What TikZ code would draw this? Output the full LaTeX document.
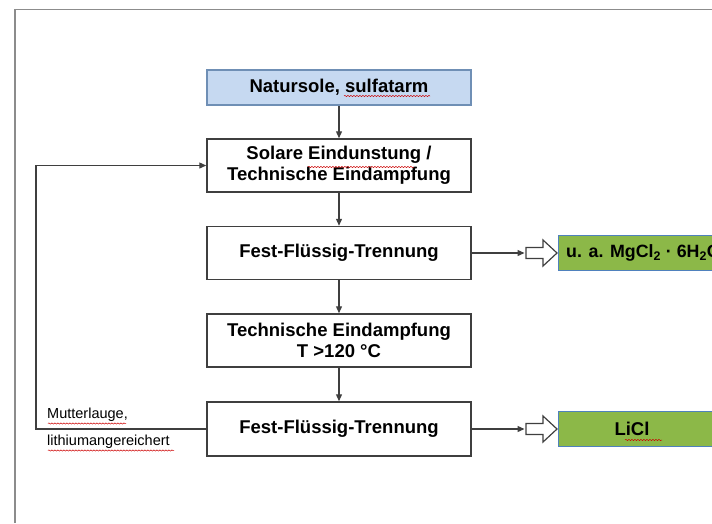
\documentclass[tikz,border=0pt]{standalone}
\usepackage{fontspec}
\setmainfont{Liberation Sans}
\usetikzlibrary{arrows.meta,decorations.pathmorphing}
\definecolor{lineC}{HTML}{3F3F3F}
\definecolor{blueFill}{HTML}{C6D9F1}
\definecolor{blueLine}{HTML}{6F8FB5}
\definecolor{greenFill}{HTML}{8CB848}
\definecolor{greenLine}{HTML}{4F81BD}
\definecolor{frameC}{HTML}{8C8C8C}
\tikzset{
  procbox/.style={draw=lineC, line width=1.5pt, fill=white, minimum width=264pt, inner sep=0pt,
    font=\fontsize{18.5}{21.5}\selectfont\bfseries, align=center},
  srcbox/.style={procbox, draw=blueLine, fill=blueFill},
  prodbox/.style={draw=greenLine, line width=1.2pt, fill=greenFill, inner sep=0pt, minimum height=35pt},
  prodtext/.style={font=\fontsize{18.5}{21.5}\selectfont\bfseries, inner sep=0pt},
  flow/.style={draw=lineC, line width=1.3pt, -{Triangle[length=7pt,width=6pt]}},
  blockarrow/.style={draw=lineC, line width=1.2pt, fill=white, line join=miter},
  smalllabel/.style={font=\fontsize{14.5}{17}\selectfont, anchor=west, inner sep=0pt},
  squiggle/.style={draw=red!80!black, line width=0.5pt, decorate, decoration={snake, amplitude=0.6pt, segment length=3pt}}
}
\begin{document}
\begin{tikzpicture}[x=1pt, y=-1pt]
\useasboundingbox (0,0) rectangle (712,523);
\clip (0,0) rectangle (712,523);
% page frame
\draw[frameC, line width=1.4pt] (15,523) -- (15,9.5) -- (712,9.5);
% process boxes
\node[srcbox, minimum height=35pt] (src) at (339,87.5) {Natursole, sulfatarm};
\node[procbox, minimum height=53pt] (evap) at (339,165.5) {Solare Eindunstung /\\Technische Eindampfung};
\node[procbox, minimum height=53pt] (sep1) at (339,253) {Fest-Flüssig-Trennung};
\node[procbox, minimum height=53pt] (evap2) at (339,340.5) {Technische Eindampfung\\T >120 °C};
\node[procbox, minimum height=54pt] (sep2) at (339,429) {Fest-Flüssig-Trennung};
% product boxes
\node[prodbox, minimum width=170pt, anchor=west] (mg) at (558,253) {};
\node[prodtext, font=\fontsize{17.8}{21}\selectfont\bfseries, anchor=west] (mgtext) at (566,253) {u. a. MgCl\textsubscript{2} · 6H\textsubscript{2}O};
\node[prodbox, minimum width=170pt, anchor=west] (li) at (558,429) {};
\node[prodtext] (litext) at (632,429) {LiCl};
% vertical flow
\draw[flow] (src.south) -- (evap.north);
\draw[flow] (evap.south) -- (sep1.north);
\draw[flow] (sep1.south) -- (evap2.north);
\draw[flow] (evap2.south) -- (sep2.north);
% outputs with block arrows
\coordinate (b1) at (526,253);
\coordinate (b2) at (526,429);
\draw[flow] (sep1.east) -- ([xshift=-1.5pt]b1);
\draw[flow] (sep2.east) -- ([xshift=-1.5pt]b2);
\foreach \b in {b1,b2}{
  \draw[blockarrow] ([yshift=5.5pt]\b) -- ++(17,0) -- ++(0,-7.5) -- ++(14,13) -- ++(-14,13) -- ++(0,-7.5) -- ++(-17,0) -- cycle;
}
% feedback loop
\coordinate (fb1) at (36,429);
\coordinate (fb2) at (36,165.5);
\draw[flow] (sep2.west) -- (fb1) -- (fb2) -- (evap.west);
\node[smalllabel] (ml1) at (47,415) {Mutterlauge,};
\node[smalllabel] (ml2) at (47,442) {lithiumangereichert};
% spell-check marks
\draw[squiggle] (344,96) -- (430,96);
\draw[squiggle] (308,167) -- (414,167);
\draw[squiggle] (625,440) -- (662,440);
\draw[squiggle] (48,423.5) -- (126,423.5);
\draw[squiggle] (48,450.5) -- (174,450.5);
\end{tikzpicture}
\end{document}
